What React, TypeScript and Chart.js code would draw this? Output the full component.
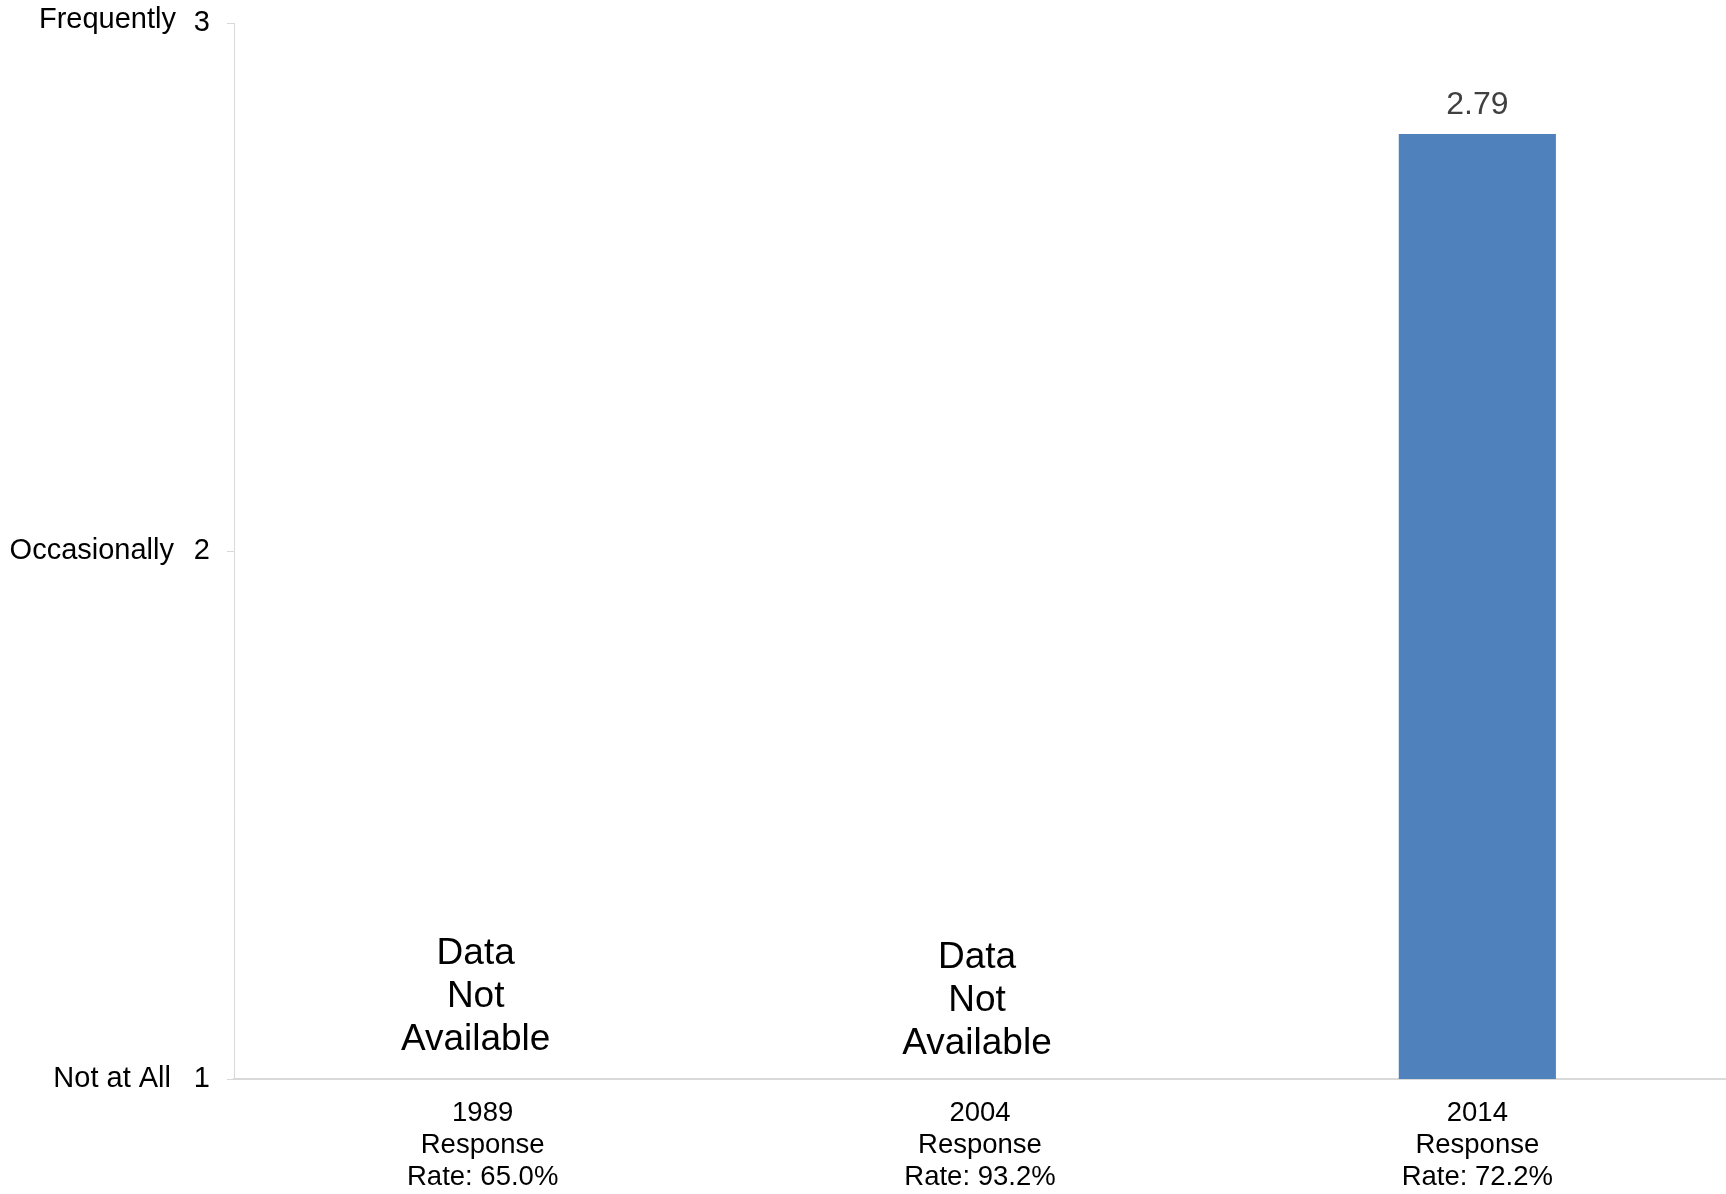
import React, { useEffect, useRef } from "react";
import { Chart, registerables } from "chart.js";

Chart.register(...registerables);

const categories: string[][] = [
  ["1989", "Response", "Rate: 65.0%"],
  ["2004", "Response", "Rate: 93.2%"],
  ["2014", "Response", "Rate: 72.2%"],
];
const values: (number | null)[] = [null, null, 2.79];
const yTickValues: number[] = [1, 2, 3];
const yWordLabels: string[] = ["Not at All", "Occasionally", "Frequently"];
const notAvailableLines: string[] = ["Data", "Not", "Available"];

const FONT = '"Liberation Sans", Arial, sans-serif';

const overlayPlugin = {
  id: "overlay",
  afterDraw(chart: any) {
    const ctx = chart.ctx;
    const yScale = chart.scales.y;
    const xScale = chart.scales.x;
    ctx.save();
    // y tick numbers and word labels
    ctx.fillStyle = "#000000";
    ctx.font = `29px ${FONT}`;
    ctx.textAlign = "right";
    ctx.textBaseline = "middle";
    const wordRight = [171, 174, 176];
    const wordDy = [0, 0, -3];
    yTickValues.forEach((v, i) => {
      const py = yScale.getPixelForValue(v);
      ctx.fillText(String(v), yScale.right - 24, py);
      ctx.fillText(yWordLabels[i], wordRight[i], py + wordDy[i]);
    });
    // Data Not Available notes
    ctx.font = `37px ${FONT}`;
    ctx.textAlign = "center";
    const base = yScale.getPixelForValue(yTickValues[0]);
    const noteDx = [-7, -3];
    const noteDy = [0, 4];
    let k = 0;
    values.forEach((v, i) => {
      if (v === null) {
        const px = xScale.getPixelForValue(i) + (noteDx[k] ?? 0);
        const dy = noteDy[k] ?? 0;
        notAvailableLines.forEach((line, j) => {
          ctx.fillText(line, px, base - 39 + dy - (notAvailableLines.length - 1 - j) * 43);
        });
        k++;
      }
    });
    // value labels
    ctx.fillStyle = "#404040";
    ctx.font = `32px ${FONT}`;
    const meta = chart.getDatasetMeta(0);
    meta.data.forEach((bar: any, i: number) => {
      const v = values[i];
      if (v !== null) {
        ctx.fillText(v.toFixed(2), bar.x, bar.y - 29);
      }
    });
    ctx.restore();
  },
};

export default function App() {
  const canvasRef = useRef<HTMLCanvasElement | null>(null);

  useEffect(() => {
    if (!canvasRef.current) return;
    const chart = new Chart(canvasRef.current, {
      type: "bar",
      data: {
        labels: categories as any,
        datasets: [
          {
            data: values as any,
            backgroundColor: "#4F81BD",
            categoryPercentage: 1,
            barPercentage: 0.316,
          },
        ],
      },
      options: {
        animation: false,
        responsive: false,
        maintainAspectRatio: false,
        layout: { padding: { top: 23, left: 0, right: 0, bottom: 0 } },
        plugins: {
          legend: { display: false },
          tooltip: { enabled: false },
        },
        scales: {
          x: {
            grid: { display: false, drawTicks: false },
            border: { display: true, color: "#d9d9d9", width: 2 },
            ticks: {
              color: "#000000",
              font: { family: FONT, size: 27.5, lineHeight: 32 / 27.5 },
              padding: 18,
              maxRotation: 0,
              autoSkip: false,
            },
            afterFit(scale: any) {
              scale.height = 115;
            },
          },
          y: {
            min: 1,
            max: 3,
            grid: {
              drawOnChartArea: false,
              drawTicks: true,
              tickLength: 7,
              color: "#d9d9d9",
            },
            border: { display: true, color: "#d9d9d9" },
            ticks: {
              stepSize: 1,
              display: false,
            },
            afterFit(scale: any) {
              scale.width = 234;
            },
          },
        },
      },
      plugins: [overlayPlugin],
    });
    return () => chart.destroy();
  }, []);

  return (
    <div
      style={{
        position: "fixed",
        left: 0,
        top: 0,
        width: 1726,
        height: 1194,
        background: "#ffffff",
      }}
    >
      <canvas ref={canvasRef} width={1726} height={1194} style={{ width: 1726, height: 1194 }} />
    </div>
  );
}
